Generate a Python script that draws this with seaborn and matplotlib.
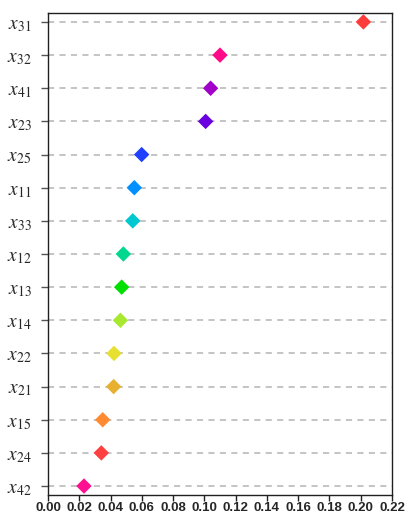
import matplotlib
matplotlib.use("Agg")
import matplotlib.pyplot as plt
import seaborn as sns
import pandas as pd

# Indicator weights, listed from top to bottom
labels = ["31", "32", "41", "23", "25", "11", "33", "12", "13", "14",
          "22", "21", "15", "24", "42"]
weights = [0.2017, 0.110, 0.104, 0.1008, 0.0599, 0.0552, 0.0542, 0.0482,
           0.0471, 0.0463, 0.0422, 0.0420, 0.0350, 0.0341, 0.0230]
colors = ["#ff3c3c", "#ff0a88", "#a000c8", "#6a00e0", "#2040ff", "#0090ff",
          "#00c8d0", "#00d890", "#00e000", "#a8e830", "#e8e030", "#e8b030",
          "#ff8a30", "#ff4040", "#ff1090"]
xticks = [0.00, 0.02, 0.04, 0.06, 0.08, 0.10, 0.12, 0.14, 0.16, 0.18, 0.20, 0.22]

names = [f"$x_{{{s}}}$" for s in labels]
df = pd.DataFrame({"name": names, "weight": weights})
palette = dict(zip(names, colors))

sns.set_style("white")
plt.rcParams["mathtext.fontset"] = "stix"

fig = plt.figure(figsize=(4.05, 5.15), dpi=100)
ax = fig.add_axes([48 / 405, 20 / 515, 344 / 405, 482 / 515])

ax.grid(axis="y", linestyle=(0, (4, 3.5)), color="#b4b4b4", linewidth=1.1)
ax.set_axisbelow(True)

sns.scatterplot(data=df, x="weight", y="name", hue="name", palette=palette,
                marker="D", s=62, edgecolor="none", legend=False, ax=ax,
                zorder=3)

ax.set_xlim(0, 0.22)
ax.set_ylim(len(names) - 1 + 0.27, -0.27)
ax.set_xticks(xticks)
ax.set_xticklabels([f"{t:.2f}" for t in xticks], family="Liberation Sans",
                   fontsize=9.5, fontweight="bold")
ax.set_yticks(range(len(names)))
ax.set_yticklabels(names, fontsize=14)
ax.set_xlabel("")
ax.set_ylabel("")

for sp in ax.spines.values():
    sp.set_visible(True)
    sp.set_color("#202020")
    sp.set_linewidth(1.0)

ax.tick_params(axis="y", direction="out", length=5, width=1.0,
               color="#555555", left=True, pad=7)
ax.tick_params(axis="x", direction="out", length=4, width=1.0,
               color="#202020", bottom=True, pad=1)

fig.savefig("out.png", dpi=100)
